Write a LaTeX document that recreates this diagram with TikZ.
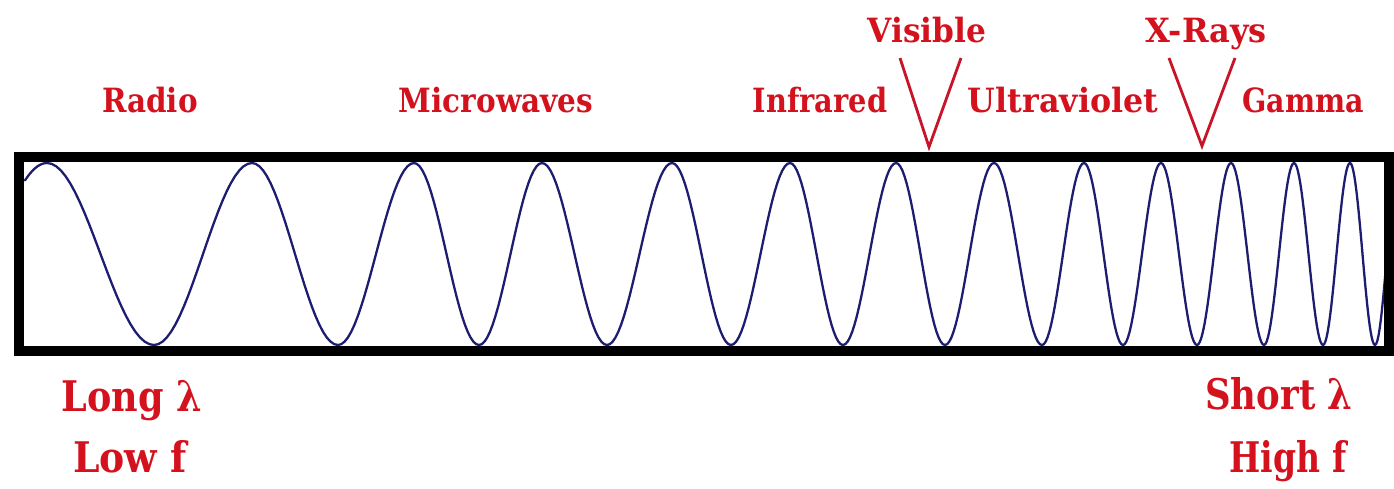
\documentclass[tikz,border=0pt]{standalone}
\usepackage{fontspec}
\setmainfont{DejaVu Serif}
\usepackage{graphicx}
\newlength\lblw
\newcommand{\fitw}[2]{\settowidth{\lblw}{#2}\pgfmathsetmacro\fitr{#1*0.5669/\lblw}\scalebox{\fitr}[1]{#2}}
\definecolor{lblred}{RGB}{212,18,30}
\definecolor{vred}{RGB}{200,20,40}
\definecolor{wavenavy}{RGB}{28,28,112}
\tikzset{
  toplbl/.style={anchor=base, inner sep=0pt, text=lblred, font=\fontsize{19}{19}\selectfont\bfseries},
  botlbl/.style={anchor=base, inner sep=0pt, text=lblred, font=\fontsize{24}{24}\selectfont\bfseries},
  vline/.style={draw=vred, line width=1.6pt, line join=miter},
  frame/.style={draw=black, line width=5.7pt},
  wave/.style={draw=wavenavy, line width=1.3pt, line join=round, line cap=round}
}
\begin{document}
\begin{tikzpicture}[x=0.02cm, y=-0.02cm]
\fill[white] (0,0) rectangle (1394,488);
\useasboundingbox (0,0) rectangle (1394,488);
% wave
\draw[wave] plot[domain=0.8:1, samples=10, variable=\t] ({-63+110*\t},{254+91*cos(180*\t)})
  \foreach \xa/\xb/\ya/\yb in {47/154/163/345, 154/252/345/163, 252/338/163/345, 338/414/345/163,
     414/479/163/345, 479/542/345/163, 542/607/163/345, 607/672/345/163, 672/731/163/345,
     731/790/345/163, 790/843/163/345, 843/896/345/163, 896/945/163/345, 945/994/345/163,
     994/1042/163/345, 1042/1084/345/163, 1084/1123/163/345, 1123/1161/345/163,
     1161/1197/163/345, 1197/1231/345/163, 1231/1264/163/345, 1264/1294/345/163,
     1294/1323/163/345, 1323/1350/345/163, 1350/1375/163/345}
  { -- plot[domain=0:1, samples=24, variable=\t] ({\xa+(\xb-\xa)*\t},{(\ya+\yb)/2+(\ya-\yb)/2*cos(180*\t)}) }
  -- plot[domain=0:0.46, samples=10, variable=\t] ({1375+24*\t},{254+91*cos(180*\t)});
% frame
\draw[frame] (19,157) rectangle (1389,351);
% labels
\node[toplbl] (radio) at (150,112) {\fitw{96}{Radio}};
\node[toplbl] (micro) at (496,112) {\fitw{195}{Microwaves}};
\node[toplbl] (infra) at (820,112) {\fitw{135}{Infrared}};
\node[toplbl] (ultra) at (1063,112) {\fitw{191}{Ultraviolet}};
\node[toplbl] (gamma) at (1303,112) {\fitw{122}{Gamma}};
\node[toplbl] (visible) at (927,42) {\fitw{119}{Visible}};
\node[toplbl] (xrays) at (1206,42) {\fitw{122}{X-Rays}};
\node[botlbl] (longl) at (132,411) {\fitw{141}{Long λ}};
\node[botlbl] (lowf) at (130,472) {\fitw{114}{Low f}};
\node[botlbl] (shortl) at (1279,409) {\fitw{148}{Short λ}};
\node[botlbl] (highf) at (1288,472) {\fitw{117}{High f}};
% V markers
\coordinate (visL) at (900,58);
\coordinate (visA) at (929,147);
\coordinate (visR) at (961,58);
\coordinate (xrL) at (1169,58);
\coordinate (xrA) at (1202,146);
\coordinate (xrR) at (1235,58);
\draw[vline] (visL) -- (visA) -- (visR);
\draw[vline] (xrL) -- (xrA) -- (xrR);
\end{tikzpicture}
\end{document}
